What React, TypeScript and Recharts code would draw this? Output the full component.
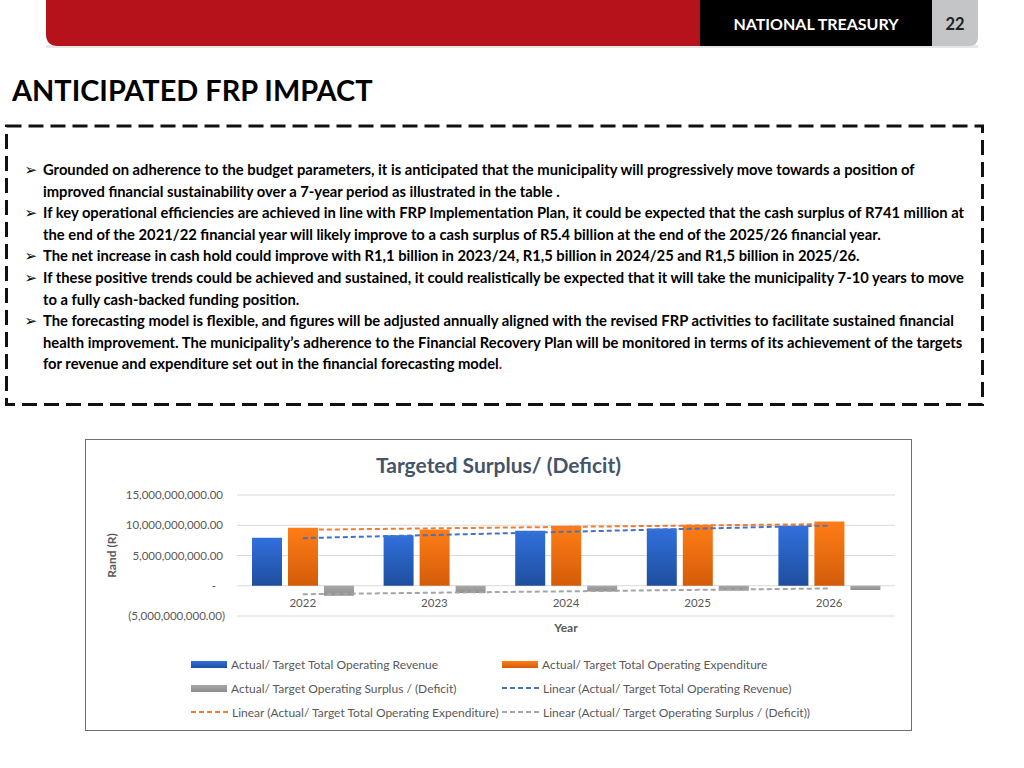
import React from 'react';
import { ComposedChart, Bar, Line, XAxis, YAxis, CartesianGrid, Legend } from 'recharts';

const years = ['2022', '2023', '2024', '2025', '2026'];
const revenue = [7.95e9, 8.35e9, 9.1e9, 9.45e9, 9.9e9];
const expenditure = [9.6e9, 9.3e9, 9.9e9, 10.1e9, 10.6e9];
const surplus = [-1.65e9, -1.2e9, -0.95e9, -0.8e9, -0.7e9];
// trendlines
const revenueTrend = [7.87e9, 8.39e9, 8.92e9, 9.44e9, 9.96e9];
const expenditureTrend = [9.25e9, 9.49e9, 9.73e9, 9.96e9, 10.2e9];
const surplusTrend = [-1.4e9, -1.15e9, -0.92e9, -0.68e9, -0.45e9];
const yTicks = [-5e9, 0, 5e9, 10e9, 15e9];

const revenueName = 'Actual/ Target Total Operating Revenue';
const expenditureName = 'Actual/ Target Total Operating Expenditure';
const surplusName = 'Actual/ Target Operating Surplus / (Deficit)';

const data = years.map((year, i) => ({
    year,
    revenue: revenue[i],
    expenditure: expenditure[i],
    surplus: surplus[i],
    revenueTrend: revenueTrend[i],
    expenditureTrend: expenditureTrend[i],
    surplusTrend: surplusTrend[i],
}));

const bodyFont = 'Lato, "Noto Sans", sans-serif';
const chartFont = 'Lato, "Open Sans", sans-serif';
const axisGrey = '#595959';

const legendOrder = ['revenue', 'expenditure', 'surplus', 'revenueTrend', 'expenditureTrend', 'surplusTrend'];
const swatchFill: Record<string, string> = {
    revenue: 'linear-gradient(#3070dc, #1f4e9f)',
    expenditure: 'linear-gradient(#ff7d16, #d35c09)',
    surplus: 'linear-gradient(#a8a8a8, #8c8c8c)',
};

const bullets = [
    { y: 175, bullet: true, text: 'Grounded on adherence to the budget parameters, it is anticipated that the municipality will progressively move towards a position of' },
    { y: 196.6, bullet: false, text: 'improved financial sustainability over a 7-year period as illustrated in the table .' },
    { y: 218.2, bullet: true, text: 'If key operational efficiencies are achieved in line with FRP Implementation Plan, it could be expected that the cash surplus of R741 million at' },
    { y: 239.8, bullet: false, text: 'the end of the 2021/22 financial year will likely improve to a cash surplus of R5.4 billion at the end of the 2025/26 financial year.' },
    { y: 261.4, bullet: true, text: 'The net increase in cash hold could improve with R1,1 billion in 2023/24, R1,5 billion in 2024/25 and R1,5 billion in 2025/26.' },
    { y: 283, bullet: true, text: 'If these positive trends could be achieved and sustained, it could realistically be expected that it will take the municipality 7-10 years to move' },
    { y: 304.6, bullet: false, text: 'to a fully cash-backed funding position.' },
    { y: 326.2, bullet: true, text: 'The forecasting model is flexible, and figures will be adjusted annually aligned with the revised FRP activities to facilitate sustained financial' },
    { y: 347.8, bullet: false, text: 'health improvement. The municipality\u2019s adherence to the Financial Recovery Plan will be monitored in terms of its achievement of the targets' },
];

function formatRand(v: number) {
    if (v === 0) return '-';
    const s = Math.abs(v).toLocaleString('en-US', { minimumFractionDigits: 2, maximumFractionDigits: 2 });
    return v < 0 ? `(${s})` : s;
}

const YTick = (props: any) => {
    const { x, y, payload } = props;
    const v = payload.value;
    const dx = v === 0 ? -13 : v < 0 ? -4 : -6;
    return (
        <text x={x + dx} y={y} dy="0.35em" textAnchor="end" fill={axisGrey} fontSize={11.5} fontFamily={chartFont}>
            {formatRand(v)}
        </text>
    );
};

const XTick = (props: any) => {
    const { x, y, payload } = props;
    return (
        <text x={x} y={y - 17} textAnchor="middle" fill={axisGrey} fontSize={11.5} fontFamily={chartFont}>
            {payload.value}
        </text>
    );
};

const renderLegend = (props: any) => {
    const items = [...(props.payload || [])].sort(
        (a: any, b: any) => legendOrder.indexOf(a.dataKey) - legendOrder.indexOf(b.dataKey)
    );
    return (
        <div style={{ position: 'relative', width: 825, height: 72, fontFamily: chartFont, fontSize: 12, color: axisGrey }}>
            {items.map((entry: any, i: number) => {
                const col = i % 2;
                const row = Math.floor(i / 2);
                const left = col === 0 ? 105 : 416;
                const isBar = entry.dataKey in swatchFill;
                return (
                    <div
                        key={entry.dataKey}
                        style={{ position: 'absolute', left, top: row * 24, height: 24, display: 'flex', alignItems: 'center', whiteSpace: 'nowrap' }}
                    >
                        {isBar ? (
                            <div style={{ width: 36, height: 7, background: swatchFill[entry.dataKey], marginRight: 4 }} />
                        ) : (
                            <svg width={38} height={4} style={{ marginRight: 3 }}>
                                <line x1={0} y1={2} x2={38} y2={2} stroke={entry.color} strokeWidth={2} strokeDasharray="5 3" />
                            </svg>
                        )}
                        <span>{entry.value}</span>
                    </div>
                );
            })}
        </div>
    );
};

export default function App() {
    return (
        <div style={{ position: 'absolute', left: 0, top: 0, width: 1024, height: 768, background: '#fff', overflow: 'hidden' }}>
            <svg width={1024} height={768} style={{ position: 'absolute', left: 0, top: 0 }}>
                <rect x={46} y={45} width={932} height={3} fill="#e6e6e6" />
                <path d="M46,0 H701 V46 H58 Q46,46 46,34 Z" fill="#b5121b" />
                <rect x={700} y={0} width={232} height={46} fill="#000" />
                <path d="M932,0 H978 V37 Q978,46 969,46 H932 Z" fill="#c3c5c7" />
                <text x={816} y={29.5} textAnchor="middle" fill="#fff" fontFamily={bodyFont} fontWeight="bold" fontSize={16}>
                    NATIONAL TREASURY
                </text>
                <text x={955} y={29.5} textAnchor="middle" fill="#222" fontFamily={bodyFont} fontWeight="bold" fontSize={16.5}>
                    22
                </text>
                <text x={12} y={100.5} fill="#000" fontFamily={bodyFont} fontWeight="bold" fontSize={28.9}>
                    ANTICIPATED FRP IMPACT
                </text>
                <rect x={6.5} y={126} width={976} height={278.5} fill="none" stroke="#111" strokeWidth={3} strokeDasharray="15 7" />
                {bullets.map((b) => (
                    <g key={b.y}>
                        {b.bullet && (
                            <text x={24.5} y={b.y} fontFamily="DejaVu Sans" fontSize={15} fill="#000">
                                {'\u27A2'}
                            </text>
                        )}
                        <text x={43} y={b.y} fontFamily={bodyFont} fontWeight="bold" fontSize={14.75} fill="#000">
                            {b.text}
                        </text>
                    </g>
                ))}
                <text x={43} y={369.4} fontFamily={bodyFont} fontWeight="bold" fontSize={14.75} fill="#000">
                    for revenue and expenditure set out in the financial forecasting model<tspan fill="#e0101a">.</tspan>
                </text>
            </svg>

            <div style={{ position: 'absolute', left: 85, top: 439, width: 827, height: 292, border: '1px solid #6f6f6f', boxSizing: 'border-box', background: '#fff' }}>
                <div style={{ position: 'absolute', left: 0, top: 12, width: 825, textAlign: 'center', fontFamily: chartFont, fontWeight: 'bold', fontSize: 21, color: '#44546a' }}>
                    Targeted Surplus/ (Deficit)
                </div>
                <ComposedChart
                    width={825}
                    height={290}
                    data={data}
                    margin={{ top: 55, right: 16, left: 0, bottom: 6 }}
                    barGap={6}
                    style={{ position: 'absolute', left: 0, top: 0 }}
                >
                    <defs>
                        <linearGradient id="gradRevenue" x1="0" y1="0" x2="0" y2="1">
                            <stop offset="0%" stopColor="#3070dc" />
                            <stop offset="100%" stopColor="#1f4e9f" />
                        </linearGradient>
                        <linearGradient id="gradExpenditure" x1="0" y1="0" x2="0" y2="1">
                            <stop offset="0%" stopColor="#ff7d16" />
                            <stop offset="100%" stopColor="#d35c09" />
                        </linearGradient>
                        <linearGradient id="gradSurplus" x1="0" y1="0" x2="0" y2="1">
                            <stop offset="0%" stopColor="#a8a8a8" />
                            <stop offset="100%" stopColor="#8e8e8e" />
                        </linearGradient>
                    </defs>
                    <CartesianGrid vertical={false} stroke="#d9d9d9" />
                    <XAxis
                        dataKey="year"
                        axisLine={false}
                        tickLine={false}
                        height={36}
                        tick={<XTick />}
                        label={{ value: 'Year', position: 'insideTop', offset: 7, fill: axisGrey, fontWeight: 'bold', fontSize: 12, fontFamily: chartFont }}
                    />
                    <YAxis
                        width={151}
                        domain={[-5e9, 15e9]}
                        ticks={yTicks}
                        axisLine={false}
                        tickLine={false}
                        tick={<YTick />}
                        label={{ value: 'Rand (R)', angle: -90, position: 'insideLeft', offset: 26, fill: axisGrey, fontWeight: 'bold', fontSize: 12, fontFamily: chartFont, style: { textAnchor: 'middle' } }}
                    />
                    <Legend verticalAlign="bottom" content={renderLegend} />
                    <Bar dataKey="revenue" name={revenueName} fill="url(#gradRevenue)" barSize={30} isAnimationActive={false} />
                    <Bar dataKey="expenditure" name={expenditureName} fill="url(#gradExpenditure)" barSize={30} isAnimationActive={false} />
                    <Bar dataKey="surplus" name={surplusName} fill="url(#gradSurplus)" barSize={30} isAnimationActive={false} />
                    <Line dataKey="revenueTrend" name={`Linear (${revenueName})`} type="linear" stroke="#4472c4" strokeWidth={2} strokeDasharray="5 3" dot={false} activeDot={false} isAnimationActive={false} />
                    <Line dataKey="expenditureTrend" name={`Linear (${expenditureName})`} type="linear" stroke="#ed7d31" strokeWidth={2} strokeDasharray="5 3" dot={false} activeDot={false} isAnimationActive={false} />
                    <Line dataKey="surplusTrend" name={`Linear (${surplusName})`} type="linear" stroke="#a5a5a5" strokeWidth={2} strokeDasharray="5 3" dot={false} activeDot={false} isAnimationActive={false} />
                </ComposedChart>
            </div>
        </div>
    );
}
